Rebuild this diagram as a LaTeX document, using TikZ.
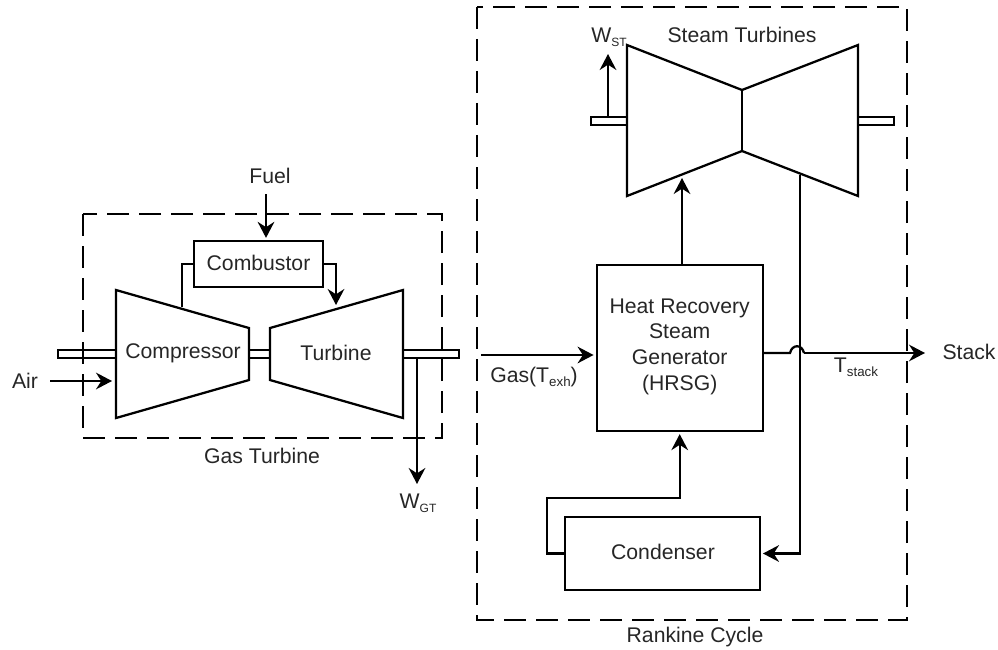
\documentclass[tikz,border=0pt]{standalone}
\usepackage{fontspec}
\setmainfont{Liberation Sans}
\usetikzlibrary{arrows.meta}
\newcommand{\capsub}[1]{\raisebox{-3pt}{\fontsize{9}{10}\selectfont #1}}
\newcommand{\lowsub}[1]{\raisebox{-3pt}{\fontsize{10}{11}\selectfont #1}}
\tikzset{
    unit/.style={line width=1.7pt,line join=miter},
    flow/.style={line width=1.7pt,-{Stealth[length=12pt,width=12.5pt,inset=4pt]},shorten >=1.5pt},
    pipe/.style={line width=1.7pt},
    shaft/.style={line width=1.3pt},
    group/.style={line width=1.7pt,dash pattern=on 16.5pt off 7.5pt},
    block/.style={draw,line width=1.7pt,inner sep=0pt,align=center},
    lbl/.style={inner sep=0pt,align=center,text=black!85},
    every node/.style={font=\fontsize{15.9}{19.3}\selectfont}
}
\begin{document}
\begin{tikzpicture}[x=0.75pt,y=-0.75pt]
        \useasboundingbox (0,0) rectangle (998,649);
        % gas turbine
        \draw[group] (83,214) rectangle (442,438);
        \node[block,minimum width=96.5pt,minimum height=34.5pt] (combustor) at (258.5,264) {};
        \node[lbl] at (258.5,263) {Combustor};
        \coordinate (compA) at (116,290);
        \coordinate (compB) at (249,328);
        \coordinate (compC) at (249,380);
        \coordinate (compD) at (116,418);
        \coordinate (turbA) at (403,290);
        \coordinate (turbB) at (270,328);
        \coordinate (turbC) at (270,380);
        \coordinate (turbD) at (403,418);
        \draw[shaft] (116,350) -- (58,350) -- (58,358) -- (116,358);
        \draw[shaft] (249,350) -- (270,350);
        \draw[shaft] (249,358) -- (270,358);
        \draw[shaft] (403,350) -- (459,350) -- (459,358) -- (403,358);
        \draw[unit] (compA) -- (compB) -- (compC) -- (compD) -- cycle;
        \draw[unit] (turbA) -- (turbB) -- (turbC) -- (turbD) -- cycle;
        \node[lbl] (compressor) at (183,353) {Compressor};
        \node[lbl] (turbine) at (336,353) {Turbine};
        \node[lbl] (fuel) at (270,176) {Fuel};
        \node[lbl] (air) at (25,381) {Air};
        \node[lbl] at (262,456) {Gas Turbine};
        \node[lbl] (wgt) at (418,503) {W\capsub{GT}};
        \coordinate (fuelin) at (266,194);
        \coordinate (airin) at (50,381);
        \coordinate (compout) at (182,307);
        \coordinate (turbin) at (336,305);
        \coordinate (gtshaft) at (417,358);
        \coordinate (gtout) at (417,484);
        \draw[flow] (fuelin) -- (fuelin |- combustor.north);
        \draw[flow] (airin) -- (114,381);
        \draw[pipe] (compout) |- (combustor.west);
        \draw[flow,shorten >=0pt] (combustor.east) -| (turbin);
        \draw[flow,shorten >=0pt] (gtshaft) -- (gtout);
        % rankine cycle
        \draw[group] (477,7) rectangle (907,620);
        \node[block,minimum width=124.5pt,minimum height=124.5pt] (hrsg) at (679.7,348) {};
        \node[lbl] at (679.7,346.5) {Heat Recovery\\Steam\\Generator\\(HRSG)};
        \node[block,minimum width=146pt,minimum height=54.5pt] (condenser) at (662.5,553.5) {};
        \node[lbl] at (663,552) {Condenser};
        \coordinate (stA) at (627,45);
        \coordinate (stB) at (742,90);
        \coordinate (stC) at (858,45);
        \coordinate (stD) at (858,196);
        \coordinate (stE) at (742,151);
        \coordinate (stF) at (627,196);
        \draw[shaft] (627,117) -- (591,117) -- (591,125) -- (627,125);
        \draw[shaft] (858,117) -- (894,117) -- (894,125) -- (858,125);
        \draw[unit] (stA) -- (stB) -- (stC) -- (stD) -- (stE) -- (stF) -- cycle;
        \draw[unit] (stB) -- (stE);
        \node[lbl] (steam) at (742,35) {Steam Turbines};
        \node[lbl] (wst) at (609,37) {W\capsub{ST}};
        \node[lbl] (gas) at (534,377) {Gas(T\lowsub{exh})};
        \node[lbl] (tstack) at (856,367) {T\lowsub{stack}};
        \node[lbl] (stack) at (969,352) {Stack};
        \node[lbl] at (695,637) {Rankine Cycle};
        \coordinate (stshaft) at (608,117);
        \coordinate (stwork) at (608,54);
        \coordinate (stin) at (682,178);
        \coordinate (stout) at (800,175);
        \coordinate (gasin) at (481,355);
        \coordinate (jumpin) at (790,353);
        \coordinate (jumpout) at (804,353);
        \coordinate (stackout) at (925,353);
        \coordinate (bend) at (547,498);
        \draw[flow,shorten >=0pt] (stshaft) -- (stwork);
        \draw[flow,shorten >=0pt] (hrsg.north -| stin) -- (stin);
        \draw[flow] (gasin) -- (gasin -| hrsg.west);
        \draw[flow] (stout) |- (condenser.east);
        \draw[pipe] (hrsg.east |- jumpin) -- (jumpin) .. controls (792,344) and (802,344) .. (jumpout);
        \draw[flow,shorten >=0pt] (jumpout) -- (stackout);
        \draw[flow] (condenser.west) -| (bend) -| (hrsg.south);
    \end{tikzpicture}
\end{document}
